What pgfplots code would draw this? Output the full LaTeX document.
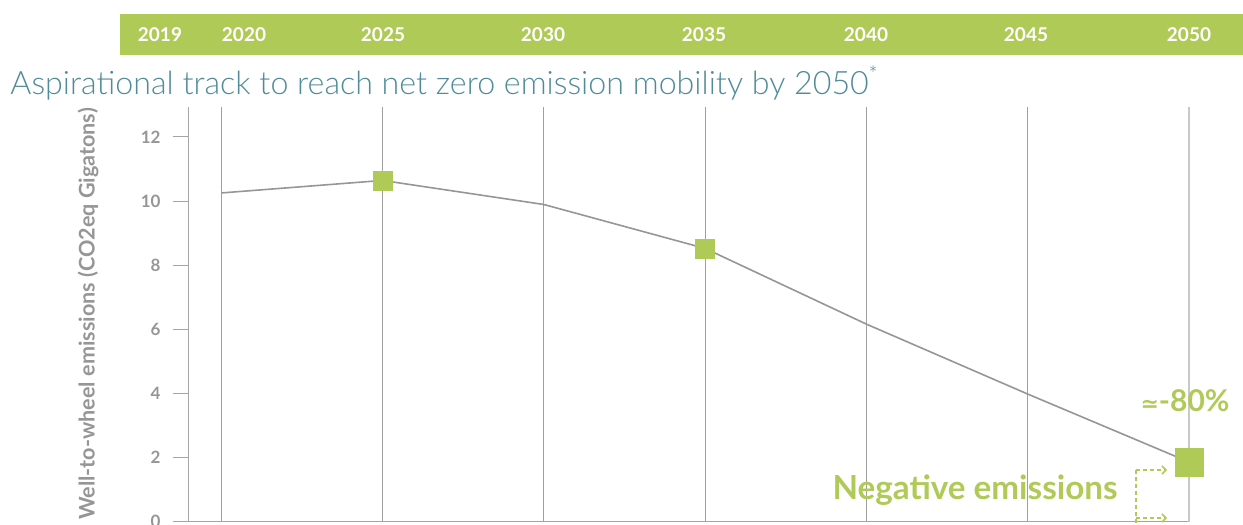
\documentclass[border=0pt]{standalone}
\usepackage{pgfplots}
\pgfplotsset{compat=1.18}
\usetikzlibrary{arrows.meta}
\usepackage{fontspec}
\setmainfont{Lato}
\newfontfamily\lightfont{Lato Light}
\newfontfamily\dejavu{DejaVu Sans}
\definecolor{lime}{RGB}{176,202,88}
\definecolor{titleteal}{RGB}{79,139,152}
\definecolor{tickgray}{RGB}{150,150,150}
\definecolor{axisgray}{RGB}{165,165,165}
\definecolor{gridgray}{RGB}{160,160,160}
\definecolor{lastgray}{RGB}{200,200,200}
\definecolor{linegray}{RGB}{150,150,150}
\begin{document}
\begin{tikzpicture}
\begin{axis}[
  at={(0,0)}, anchor=south west,
  scale only axis, width=500pt, height=207.35pt,
  xmin=2019, xmax=2050, ymin=0, ymax=12.93,
  axis x line*=bottom, axis y line*=left,
  axis line style={draw=axisgray, line width=0.5pt, -},
  xtick={2020,2025,...,2045}, xticklabels={},
  extra x ticks={2050}, extra x tick labels={},
  extra x tick style={grid style={draw=lastgray, line width=0.9pt}},
  xmajorgrids, grid style={draw=gridgray, line width=0.6pt},
  ytick={0,2,...,12}, major tick length=0pt,
  /pgf/number format/assume math mode=true,
  yticklabel style={anchor=east, inner sep=0pt, text=tickgray, font=\bfseries\fontsize{8.5}{10}\selectfont},
  yticklabel={\pgfmathprintnumber{\tick}\hspace{6pt}{\color{axisgray}\rule[0.33em]{8pt}{0.5pt}}\hspace{3pt}},
  clip=false,
]
\addplot[draw=linegray, line width=0.8pt, mark=none] coordinates {
  (2020,10.25) (2025,10.64) (2030,9.89) (2035,8.52) (2040,6.16) (2045,3.98) (2050,1.86)
};
\addplot[only marks, mark=square*, mark size=4.75pt, draw=lime, fill=lime] coordinates {
  (2025,10.64) (2035,8.52)
};
\addplot[only marks, mark=square*, mark size=7pt, draw=lime, fill=lime] coordinates {
  (2050,1.86)
};
\end{axis}
% header band
\fill[lime] (-34.5pt,233.35pt) rectangle (527pt,253.85pt);
\foreach \x/\lab in {-14.5/2019, 27.5/2020, 97/2025, 177/2030, 257.5/2035, 338.5/2040, 418.5/2045, 500/2050}
  \node[text=white, inner sep=0pt, font=\bfseries\fontsize{9.5}{11}\selectfont] at (\x pt,243.35pt) {\lab};
% title
\node[anchor=base west, inner sep=0pt, text=titleteal, font=\lightfont\fontsize{16.1}{19}\selectfont]
  at (-89.5pt,213.35pt) {Aspirational track to reach net zero emission mobility by 2050\textsuperscript{*}};
% y label
\node[rotate=90, inner sep=0pt, text=tickgray, font=\bfseries\fontsize{10.8}{12}\selectfont]
  at (-50.5pt,103.85pt) {Well-to-wheel emissions (CO2eq Gigatons)};
% annotations
\node[anchor=base east, inner sep=0pt, text=lime, font=\bfseries\fontsize{16.6}{19}\selectfont]
  at (464.5pt,11.2pt) {Negative emissions};
\node[anchor=base, inner sep=0pt, text=lime, font=\bfseries\fontsize{15}{18}\selectfont]
  at (498pt,55pt) {{\dejavu\fontsize{11}{12}\selectfont ≃}-80\%};
\draw[lime, line width=0.75pt, dash pattern=on 2pt off 1.5pt] (473.5pt,25.85pt) -- (473.5pt,-2pt);
\draw[lime, line width=0.75pt, dash pattern=on 2pt off 1.5pt, -{Straight Barb[length=2pt,width=4pt]}] (473.5pt,25.85pt) -- (489pt,25.85pt);
\draw[lime, line width=0.75pt, dash pattern=on 2pt off 1.5pt, -{Straight Barb[length=2pt,width=4pt]}] (473.5pt,1.85pt) -- (489pt,1.85pt);
\pgfresetboundingbox
\path[use as bounding box] (-94.5pt,-1.65pt) rectangle (527pt,260.85pt);
\end{tikzpicture}
\end{document}
